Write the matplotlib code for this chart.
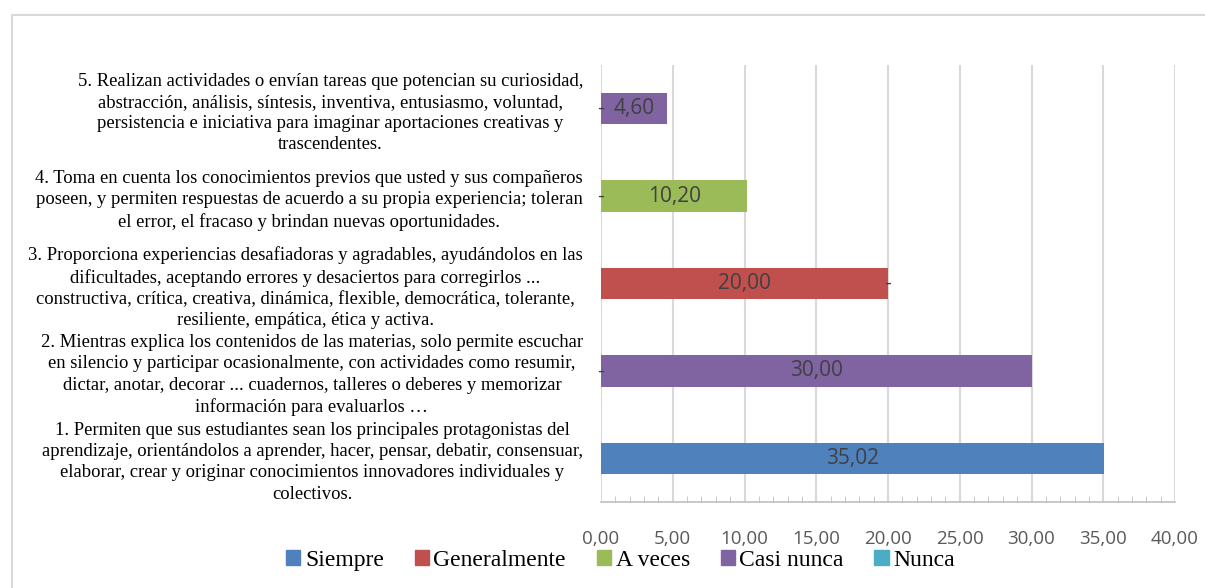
import numpy as np
import matplotlib.pyplot as plt
from matplotlib.patches import Rectangle, Patch
from matplotlib.ticker import MultipleLocator, FuncFormatter

categories = [
    "1. Permiten que sus estudiantes sean los principales protagonistas del\n"
    "aprendizaje, orientándolos a aprender, hacer, pensar, debatir, consensuar,\n"
    "elaborar, crear y originar conocimientos innovadores individuales y\n"
    "colectivos.",
    "2. Mientras explica los contenidos de las materias, solo permite escuchar\n"
    "en silencio y participar ocasionalmente, con actividades como resumir,\n"
    "dictar, anotar, decorar ... cuadernos, talleres o deberes y memorizar\n"
    "información para evaluarlos …",
    "3. Proporciona experiencias desafiadoras y agradables, ayudándolos en las\n"
    "dificultades, aceptando errores y desaciertos para corregirlos ...\n"
    "constructiva, crítica, creativa, dinámica, flexible, democrática, tolerante,\n"
    "resiliente, empática, ética y activa.",
    "4. Toma en cuenta los conocimientos previos que usted y sus compañeros\n"
    "poseen, y permiten respuestas de acuerdo a su propia experiencia; toleran\n"
    "el error, el fracaso y brindan nuevas oportunidades.",
    "5. Realizan actividades o envían tareas que potencian su curiosidad,\n"
    "abstracción, análisis, síntesis, inventiva, entusiasmo, voluntad,\n"
    "persistencia e iniciativa para imaginar aportaciones creativas y\n"
    "trascendentes.",
]

series = ["Siempre", "Generalmente", "A veces", "Casi nunca", "Nunca"]
colors = ["#4F81BD", "#C0504D", "#9BBB59", "#8064A2", "#4BACC6"]

# nan = empty cell, 0 = zero shown as "-"
siempre = [35.02, 0, np.nan, 0, 0]
generalmente = [np.nan, np.nan, 20.00, np.nan, np.nan]
a_veces = [np.nan, np.nan, 0, 10.20, np.nan]
casi_nunca = [np.nan, 30.00, np.nan, np.nan, 4.60]
nunca = [np.nan, np.nan, np.nan, np.nan, np.nan]

data = [siempre, generalmente, a_veces, casi_nunca, nunca]

fig = plt.figure(figsize=(12.05, 5.88), dpi=100)
fig.patches.append(Rectangle((12 / 1205, -0.1), 1.2, 1.1 - 15 / 588,
                             transform=fig.transFigure, fill=False,
                             edgecolor="#D9D9D9", linewidth=1.5))

ax = fig.add_axes([601 / 1205, 86 / 588, 574 / 1205, 437 / 588])

y = np.arange(len(categories))
left = np.zeros(len(categories))
for name, vals, col in zip(series, data, colors):
    v = np.array(vals, dtype=float)
    w = np.nan_to_num(v)
    bars = ax.barh(y, w, left=left, height=0.36, color=col, label=name, zorder=2)
    for i, b in enumerate(bars):
        if np.isnan(v[i]):
            continue
        if v[i] == 0:
            ax.text(left[i], y[i], "-", ha="center", va="center",
                    fontsize=15, color="#404040", family="Liberation Sans", zorder=3)
        else:
            txt = f"{v[i]:.2f}".replace(".", ",")
            ax.text(left[i] + w[i] / 2, y[i], txt, ha="center", va="center",
                    fontsize=15, color="#404040", family="Open Sans", zorder=3)
    left = left + w

ax.set_xlim(0, 40)
ax.set_ylim(-0.5, 4.5)
ax.set_yticks(y)
ax.set_yticklabels(categories, family="Liberation Serif", fontsize=13.4,
                   multialignment="center", linespacing=1.32)
ax.xaxis.set_major_locator(MultipleLocator(5))
ax.xaxis.set_minor_locator(MultipleLocator(1))
ax.xaxis.set_major_formatter(FuncFormatter(lambda v, p: f"{v:.2f}".replace(".", ",")))
for lab in ax.get_xticklabels():
    lab.set_family("Open Sans")
ax.tick_params(axis="x", which="major", length=0, pad=20, labelsize=13.5, labelcolor="#595959")
ax.tick_params(axis="x", which="minor", direction="in", length=4, color="#BFBFBF")
ax.tick_params(axis="y", length=0, pad=13)
ax.grid(axis="x", color="#D9D9D9", linewidth=1.5, zorder=0)
ax.set_axisbelow(True)
for s in ["top", "right", "left"]:
    ax.spines[s].set_visible(False)
ax.spines["bottom"].set_color("#BFBFBF")
ax.spines["bottom"].set_linewidth(1.2)

handles = [Patch(color=c, label=n) for n, c in zip(series, colors)]
fig.legend(handles=handles, loc="center", bbox_to_anchor=(0.515, 0.047), ncol=5,
           frameon=False, prop={"family": "Liberation Serif", "size": 17},
           handlelength=0.6, handleheight=0.6, handletextpad=0.2, columnspacing=1.3)

fig.savefig("out.png", dpi=100)
